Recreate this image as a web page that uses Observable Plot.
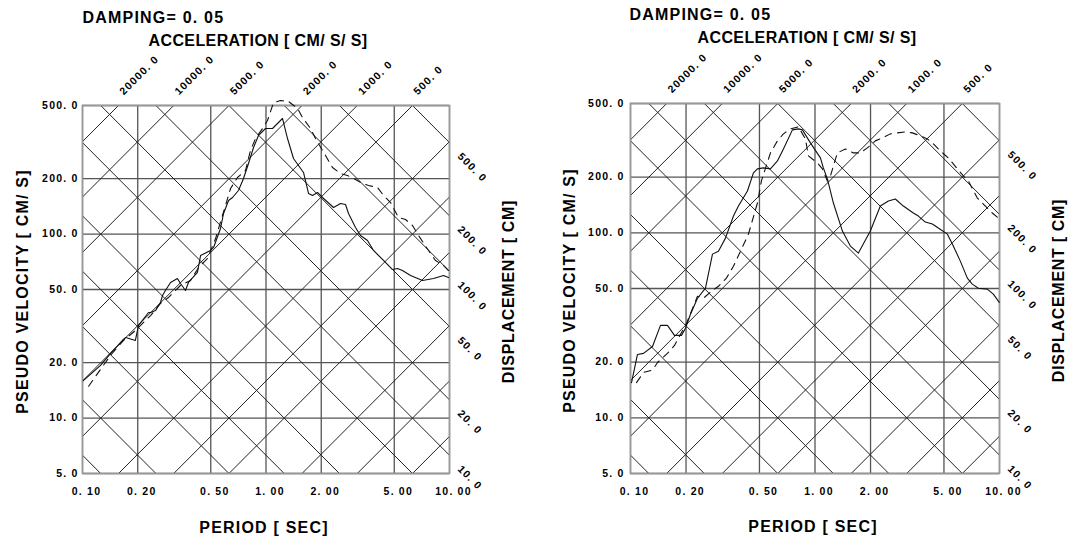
<!DOCTYPE html>
<html><head><meta charset="utf-8">
<script src="https://cdn.jsdelivr.net/npm/d3@7"></script>
<script src="https://cdn.jsdelivr.net/npm/@observablehq/plot@0.6"></script>
<style>
html,body{margin:0;padding:0;background:#fff;}
#wrap{display:flex;width:1068px;height:538px;overflow:hidden;}
#wrap svg{flex:none;}
</style></head><body><div id="wrap"></div>
<script>
// ---- axis / grid values ----
const periodTicks = [0.1, 0.2, 0.5, 1, 2, 5, 10];
const periodLabels = ["0. 10", "0. 20", "0. 50", "1. 00", "2. 00", "5. 00", "10. 00"];
const velocityTicks = [5, 10, 20, 50, 100, 200, 500];
const velocityLabels = ["5. 0", "10. 0", "20. 0", "50. 0", "100. 0", "200. 0", "500. 0"];
const accelGrid = [5, 10, 20, 50, 100, 200, 500, 1000, 2000, 5000, 10000, 20000];
const dispGrid = [0.1, 0.2, 0.5, 1, 2, 5, 10, 20, 50, 100, 200, 500];
const accelLabels = [20000, 10000, 5000, 2000, 1000, 500];
const dispLabels = [500, 200, 100, 50, 20, 10];

const dampingTitle = "DAMPING= 0. 05";
const accelTitle = "ACCELERATION [ CM/ S/ S]";
const periodTitle = "PERIOD [ SEC]";
const velocityTitle = "PSEUDO VELOCITY [ CM/ S]";
const dispTitle = "DISPLACEMENT [ CM]";

// ---- left chart series (period s, pseudo velocity cm/s) ----
const leftSolidT = [0.101,0.125,0.142,0.167,0.172,0.194,0.202,0.229,0.235,0.250,0.256,0.266,0.273,0.283,0.302,0.329,0.342,0.364,0.378,0.423,0.440,0.498,0.518,0.565,0.587,0.625,0.657,0.708,0.754,0.803,0.855,0.910,0.994,1.085,1.230,1.310,1.412,1.601,1.705,1.792,1.909,2.032,2.333,2.547,2.712,2.816,3.074,3.273,3.574,3.853,4.369,4.891,5.207,5.544,6.132,7.127,8.183,9.276,9.876];
const leftSolidV = [16.0,19.3,22.4,26.8,27.4,26.4,31.9,37.5,37.5,38.4,39.9,42.5,46.4,49.4,54.6,57.4,53.9,49.4,54.6,61.9,76.5,81.5,84.6,107.3,129.4,152.3,158.1,172.6,200.6,242,295.6,343.6,375,375,425,330.8,257.6,216.2,166.3,162.2,168.4,158.1,139.5,146.7,144.9,129.4,108.6,98.3,92.3,81.5,71.9,64.2,65.0,63.4,59.6,56.0,57.4,59.6,58.1];
const leftDashT = [0.108,0.121,0.142,0.167,0.194,0.235,0.266,0.294,0.342,0.388,0.429,0.480,0.531,0.579,0.641,0.699,0.773,0.823,0.877,0.957,1.019,1.099,1.200,1.327,1.485,1.581,1.748,1.861,2.110,2.303,2.547,2.781,3.074,3.357,3.619,4.052,4.369,4.770,5.273,5.757,6.287,6.777,7.880,8.391,9.276,9.876];
const leftDashV = [14.9,17.5,21.9,26.4,29.9,36.1,42.0,45.2,52.6,56.0,65.8,73.7,94.6,126.2,177,203.1,221.6,284.7,330.8,375,414.3,519,532,526,482,430,375,330.8,267.5,230.1,213.5,208.2,198.1,188.4,183.7,179.2,162.2,148.5,123.1,120.1,111.4,98.3,78.5,71.9,67.5,63.4];

// ---- right chart series ----
const rightSolidT = [0.1013,0.1091,0.1176,0.1316,0.1454,0.1586,0.1731,0.1889,0.1986,0.2113,0.2307,0.2549,0.2782,0.2997,0.3271,0.3614,0.3846,0.4303,0.4638,0.4875,0.5253,0.5734,0.6256,0.6743,0.7544,0.8131,0.8547,0.9444,1.070,1.110,1.167,1.258,1.408,1.555,1.719,1.995,2.261,2.498,2.726,3.012,3.412,3.633,3.963,4.325,4.661,5.215,5.619,6.133,6.693,7.123,7.677,8.589,9.256,9.975];
const rightSolidV = [15.5,22.0,22.3,24.3,31.6,31.6,27.9,27.9,30.5,36.3,44.3,50.2,76.7,79.6,93.6,123.2,139.5,168.3,210.7,221.5,224.3,221.5,244.7,284.1,360.1,364.6,360.1,306.2,254.0,224.3,195.5,144.9,102.2,84.8,77.7,102.2,139.5,148.5,152.3,139.5,127.9,123.2,114.3,111.5,106.1,98.4,84.8,70.3,56.9,52.8,50.2,49.6,46.6,42.1];
const rightDashT = [0.1078,0.1176,0.1316,0.1401,0.1586,0.1731,0.2011,0.2307,0.2486,0.2747,0.2997,0.3311,0.3614,0.3993,0.4357,0.4875,0.5124,0.5734,0.6256,0.6743,0.7357,0.8131,0.8872,0.9211,1.030,1.097,1.167,1.212,1.322,1.462,1.614,1.762,1.922,2.124,2.318,2.562,2.796,3.088,3.371,3.724,4.063,4.379,4.778,5.280,5.619,6.367,6.776,7.581,8.171,9.142,9.851];
const rightDashV = [15.5,17.6,18.1,19.9,22.3,24.6,32.4,45.4,44.3,48.3,51.4,56.9,66.0,81.6,98.4,144.9,190.7,270.4,314.0,342.6,364.6,374.4,321.9,260.4,238.7,221.5,190.7,202.9,270.4,284.1,270.4,270.4,287.7,314.0,326.0,342.6,346.9,351.2,346.9,334.2,321.9,302.4,277.2,254.0,235.7,202.9,190.7,154.2,143.1,127.9,120.2];

const TWO_PI = 2 * Math.PI;
const tMin = periodTicks[0], tMax = periodTicks[periodTicks.length - 1];
const vMin = velocityTicks[0], vMax = velocityTicks[velocityTicks.length - 1];
const fmt1 = v => v.toFixed(1).replace(".", ". ");
const zip = (T, V) => T.map((t, i) => ({T: t, V: V[i]}));

function chart(cfg) {
  const accelLines = accelGrid.flatMap(A => [tMin, tMax].map(t => ({A, T: t, V: A * t / TWO_PI})));
  const dispLines = dispGrid.flatMap(D => [tMin, tMax].map(t => ({D, T: t, V: TWO_PI * D / t})));
  const accelLab = accelLabels.map(A => ({T: TWO_PI * vMax / A, V: vMax, s: fmt1(A)}));
  const dispLab = dispLabels.map(D => ({T: tMax, V: TWO_PI * D / tMax, s: fmt1(D)}));
  const svg = Plot.plot({
    width: 534, height: 538,
    marginLeft: cfg.ml, marginRight: cfg.mr, marginTop: cfg.mt, marginBottom: cfg.mb,
    style: {fontFamily: "'Liberation Sans', Arial, sans-serif", fontWeight: "bold", fontSize: "10.5px", letterSpacing: "1.2px", background: "#fff", overflow: "visible"},
    x: {type: "log", domain: [tMin, tMax]},
    y: {type: "log", domain: [vMin, vMax]},
    marks: [
      Plot.ruleX(periodTicks, {stroke: "#555", strokeWidth: 1.3}),
      Plot.ruleY(velocityTicks, {stroke: "#555", strokeWidth: 1.3}),
      Plot.line(accelLines, {x: "T", y: "V", z: "A", clip: true, stroke: "#222", strokeWidth: 1}),
      Plot.line(dispLines, {x: "T", y: "V", z: "D", clip: true, stroke: "#222", strokeWidth: 1}),
      Plot.frame({stroke: "#999", strokeWidth: 1.6}),
      Plot.line(zip(cfg.solidT, cfg.solidV), {x: "T", y: "V", stroke: "#111", strokeWidth: 1.1}),
      Plot.line(zip(cfg.dashT, cfg.dashV), {x: "T", y: "V", stroke: "#111", strokeWidth: 1.1, strokeDasharray: "7,6"}),
      Plot.axisX({ticks: periodTicks, tickFormat: d => periodLabels[periodTicks.indexOf(d)], tickSize: 0, tickPadding: 14, dx: 4, label: null, fontSize: 10.5}),
      Plot.axisY({ticks: velocityTicks, tickFormat: d => velocityLabels[velocityTicks.indexOf(d)], tickSize: 0, tickPadding: cfg.yPad, label: null, fontSize: 10.5}),
      Plot.text(accelLab, {x: "T", y: "V", text: "s", rotate: -45, textAnchor: "start", lineAnchor: "middle", dx: 3, dy: -12.5, fontSize: 10.5}),
      Plot.text(dispLab, {x: "T", y: "V", text: "s", rotate: 45, textAnchor: "start", lineAnchor: "middle", dx: 10, dy: 12, fontSize: 10.5}),
      Plot.text([dampingTitle], {text: d => d, frameAnchor: "top-left", textAnchor: "start", lineAnchor: "bottom", dx: cfg.dampDx, dy: cfg.dampDy, fontSize: 16}),
      Plot.text([accelTitle], {text: d => d, frameAnchor: "top", textAnchor: "middle", lineAnchor: "bottom", dx: -8, dy: cfg.accDy, fontSize: 16}),
      Plot.text([periodTitle], {text: d => d, frameAnchor: "bottom", textAnchor: "middle", lineAnchor: "bottom", dx: -2, dy: cfg.perDy, fontSize: 16}),
      Plot.text([velocityTitle], {text: d => d, frameAnchor: "left", rotate: -90, textAnchor: "middle", lineAnchor: "bottom", dx: cfg.velDx, dy: 2, fontSize: 16}),
      Plot.text([dispTitle], {text: d => d, frameAnchor: "right", rotate: -90, textAnchor: "middle", lineAnchor: "bottom", dx: 64, dy: 2, fontSize: 16})
    ]
  });
  d3.select(svg).selectAll("text").filter(function() { return this.textContent === accelTitle; }).style("letter-spacing", "0.4px");
  d3.select(svg).selectAll("text").filter(function() { return this.textContent === dispTitle; }).style("letter-spacing", "0.7px");
  return svg;
}

const wrap = document.getElementById("wrap");
wrap.appendChild(chart({ml: 82, mr: 85, mt: 105, mb: 65, yPad: 4, dampDx: 0, dampDy: -83, accDy: -60, perDy: 59, velDx: -55,
  solidT: leftSolidT, solidV: leftSolidV, dashT: leftDashT, dashV: leftDashV}));
wrap.appendChild(chart({ml: 96, mr: 69, mt: 103, mb: 65, yPad: 6, dampDx: -1, dampDy: -84, accDy: -61, perDy: 58, velDx: -56,
  solidT: rightSolidT, solidV: rightSolidV, dashT: rightDashT, dashV: rightDashV}));
</script></body></html>
